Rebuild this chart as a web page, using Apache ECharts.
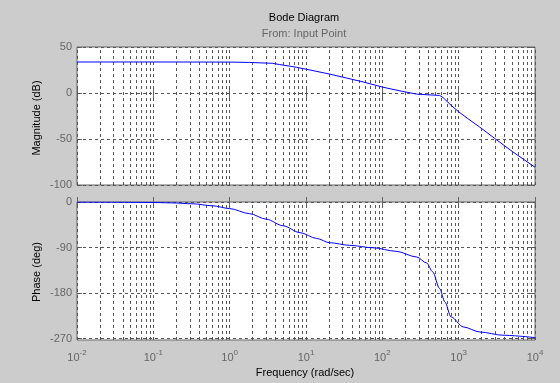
<!DOCTYPE html>
<html><head><meta charset="utf-8">
<script src="https://cdn.jsdelivr.net/npm/echarts@6/dist/echarts.min.js"></script>
<style>html,body{margin:0;padding:0;background:#cccccc}#c{width:560px;height:383px}</style>
</head><body><div id="c"></div>
<script>
// ---- data ----
const magFreq  = [0.01, 0.1, 1, 1.82, 3.63, 4.53, 7.48, 10.1, 20.4, 33.9, 56.2, 102, 170, 282, 398, 562, 624, 759, 991, 1318, 1884, 2951, 5129, 10000];
const magDb    = [33.7, 33.7, 33.6, 33.2, 32.3, 30.9, 28.0, 25.8, 20.6, 16.3, 12.0, 6.3, 2.3, -1.2, -2.0, -2.6, -4.9, -11.8, -20.2, -27.8, -37.0, -49.2, -64.0, -80.7];
const phaseFreq = [0.01, 0.03, 0.1, 0.17, 0.33, 0.6, 1, 1.82, 3.02, 5.01, 8.32, 13.8, 20.4, 37.2, 75.9, 151, 282, 380, 457, 562, 661, 794, 1150, 1905, 3800, 10000];
const phaseDeg  = [-0.1, -0.4, -1.0, -1.7, -3.5, -7.5, -13, -23, -34, -47, -60.5, -72, -80.5, -85.6, -90.5, -97.4, -108.7, -120.5, -138, -171, -197.6, -227, -247, -257, -263.4, -268];
const decadeTicks = [0.01, 0.1, 1, 10, 100, 1000, 10000];
const minorMultipliers = [2, 3, 4, 5, 6, 7, 8, 9];
const magTicks = [-100, -50, 0, 50];
const phaseTicks = [-270, -180, -90, 0];
const titleText = 'Bode Diagram';
const subtitleText = 'From: Input Point';
const xName = 'Frequency (rad/sec)';
const magName = 'Magnitude (dB)';
const phaseName = 'Phase (deg)';

const FONT = '"Liberation Sans", Arial, Helvetica, sans-serif';
const TICKC = '#666666';
const GRIDC = '#555555';

const gridX = [];
decadeTicks.forEach(d => {
  gridX.push(d);
  if (d < 10000) minorMultipliers.forEach(m => gridX.push(+(d * m).toPrecision(3)));
});

function zip(a, b) { return a.map((v, i) => [v, b[i]]); }

function xAx(gi, pos, labels) {
  return {
    gridIndex: gi, type: 'log', logBase: 10, min: 0.01, max: 10000, position: pos,
    axisLine: { show: false },
    axisTick: { show: true, inside: true, length: 5, customValues: decadeTicks, lineStyle: { color: TICKC } },
    axisLabel: labels ? {
      show: true, customValues: decadeTicks, margin: 9, fontFamily: FONT,
      formatter: v => '{b|10}{s|' + Math.round(Math.log10(v)) + '}',
      rich: {
        b: { fontSize: 11, color: TICKC, fontFamily: FONT, lineHeight: 14, verticalAlign: 'bottom' },
        s: { fontSize: 8, color: TICKC, fontFamily: FONT, lineHeight: 14, verticalAlign: 'top' }
      }
    } : { show: false },
    splitLine: { show: false }
  };
}
function yAx(gi, pos, min, max, ticks, labels) {
  return {
    gridIndex: gi, type: 'value', min: min, max: max, position: pos,
    axisLine: { show: false },
    axisTick: { show: true, inside: true, length: 5, customValues: ticks, lineStyle: { color: TICKC } },
    axisLabel: labels ? { show: true, customValues: ticks, margin: 5, color: TICKC, fontSize: 11, fontFamily: FONT } : { show: false },
    splitLine: { show: false }
  };
}
function gridSeries(xi, yi, yTicks) {
  const data = gridX.map(v => ({ xAxis: v })).concat(yTicks.map(v => ({ yAxis: v })));
  return {
    type: 'line', xAxisIndex: xi, yAxisIndex: yi, data: [], z: 1, silent: true,
    markLine: { silent: true, symbol: ['none', 'none'], label: { show: false }, animation: false,
      lineStyle: { color: GRIDC, type: [3, 3], width: 1 }, data: data }
  };
}

const chart = echarts.init(document.getElementById('c'), null, { renderer: 'canvas' });
chart.setOption({
  backgroundColor: '#cccccc',
  animation: false,
  grid: [
    { left: 77, top: 47, width: 458, height: 138, show: true, backgroundColor: '#ffffff', borderColor: '#666666', borderWidth: 1 },
    { left: 77, top: 202, width: 458, height: 138, show: true, backgroundColor: '#ffffff', borderColor: '#666666', borderWidth: 1 }
  ],
  xAxis: [xAx(0, 'bottom', false), xAx(0, 'top', false), xAx(1, 'bottom', true), xAx(1, 'top', false)],
  yAxis: [yAx(0, 'left', -100, 50, magTicks, true), yAx(0, 'right', -100, 50, magTicks, false),
          yAx(1, 'left', -272.8, 0, phaseTicks, true), yAx(1, 'right', -272.8, 0, phaseTicks, false)],
  series: [
    gridSeries(0, 0, magTicks),
    gridSeries(2, 2, phaseTicks),
    { type: 'line', xAxisIndex: 0, yAxisIndex: 0, data: zip(magFreq, magDb), showSymbol: false, z: 5,
      smooth: false, lineStyle: { color: '#0000ff', width: 1 } },
    { type: 'line', xAxisIndex: 2, yAxisIndex: 2, data: zip(phaseFreq, phaseDeg), showSymbol: false, z: 5,
      smooth: 0.3, smoothMonotone: 'x', lineStyle: { color: '#0000ff', width: 1 } }
  ],
  graphic: [
    { type: 'text', x: 304, y: 18, style: { text: titleText, fill: '#000', fontSize: 11, fontFamily: FONT, align: 'center', verticalAlign: 'middle' } },
    { type: 'text', x: 304, y: 34, style: { text: subtitleText, fill: '#666', fontSize: 11, fontFamily: FONT, align: 'center', verticalAlign: 'middle' } },
    { type: 'text', x: 305, y: 373, style: { text: xName, fill: '#000', fontSize: 11, fontFamily: FONT, align: 'center', verticalAlign: 'middle' } },
    { type: 'text', x: 37, y: 118, rotation: Math.PI / 2, style: { text: magName, fill: '#000', fontSize: 11, fontFamily: FONT, align: 'center', verticalAlign: 'middle' } },
    { type: 'text', x: 37, y: 272, rotation: Math.PI / 2, style: { text: phaseName, fill: '#000', fontSize: 11, fontFamily: FONT, align: 'center', verticalAlign: 'middle' } }
  ]
});
</script>
</body></html>
